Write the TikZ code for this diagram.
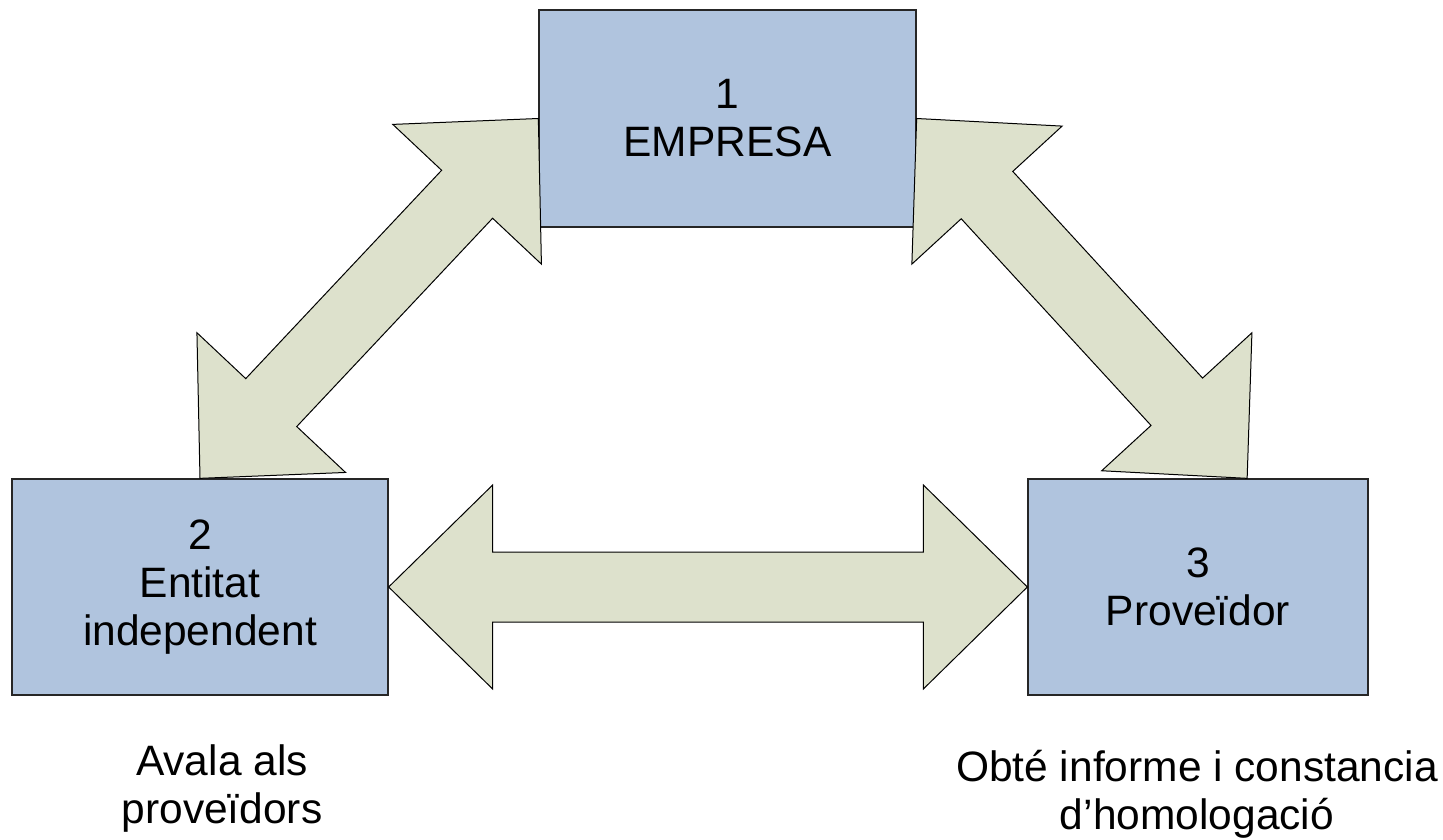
\documentclass[tikz,border=0pt]{standalone}
\usepackage{fontspec}
\setmainfont{Liberation Sans}
\usetikzlibrary{calc}
\definecolor{boxfill}{HTML}{B0C4DE}
\definecolor{arrfill}{HTML}{DDE1CC}
\tikzset{
  boxnode/.style={draw=black!85, fill=boxfill, line width=1.3pt, inner sep=0pt,
    align=center, font=\fontsize{42.5}{48}\selectfont},
  labelnode/.style={align=center, inner sep=0pt, font=\fontsize{42.5}{48}\selectfont},
  barrow/.style={draw=black, fill=arrfill, line width=1pt, line join=miter},
}
% double block arrow between two named points
\newcommand\dblblock[2]{%
  \coordinate (ha) at ($(#1)!104pt!(#2)$);
  \coordinate (hb) at ($(#2)!104pt!(#1)$);
  \draw[barrow] (#1) -- ($(ha)!102pt!90:(#2)$) -- ($(ha)!35pt!90:(#2)$)
    -- ($(hb)!35pt!-90:(#1)$) -- ($(hb)!102pt!-90:(#1)$) -- (#2)
    -- ($(hb)!102pt!90:(#1)$) -- ($(hb)!35pt!90:(#1)$)
    -- ($(ha)!35pt!-90:(#2)$) -- ($(ha)!102pt!-90:(#2)$) -- cycle;
}
\begin{document}
\begin{tikzpicture}[x=1pt,y=-1pt]
\useasboundingbox (0,0) rectangle (1443,840);
% boxes
\node[boxnode, minimum width=377pt, minimum height=217pt] (b1) at (727.5,118.5) {1\\EMPRESA};
\node[boxnode, minimum width=376pt, minimum height=216pt] (b2) at (200,587) {2\\Entitat\\independent};
\node[boxnode, minimum width=340pt, minimum height=216pt] (b3) at (1198,587) {3\\Prove\"idor};
% arrow end points
\coordinate (t3) at ($(b3.north west)!0.644!(b3.north east)$);
% block arrows
\dblblock{b1.west}{b2.north}
\dblblock{b1.east}{t3}
\dblblock{b2.east}{b3.west}
% captions
\node[labelnode] (l2) at (222,789) {Avala als\\proveïdors};
\node[labelnode] (l3) at (1197,794) {Obté informe i constancia\\d’homologació};
\end{tikzpicture}
\end{document}
